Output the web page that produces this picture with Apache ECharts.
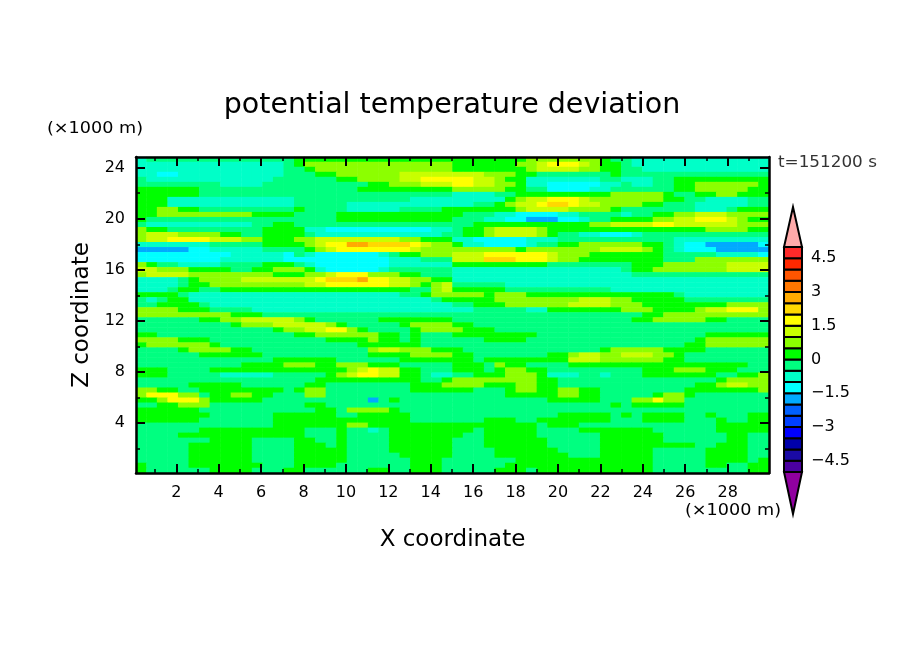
<!DOCTYPE html>
<html><head><meta charset="utf-8">
<style>html,body{margin:0;padding:0;background:#fff}#c{width:904px;height:654px}</style>
<script src="https://cdn.jsdelivr.net/npm/echarts@6/dist/echarts.min.js"></script>
</head><body><div id="c"></div>
<script>
const titleText = 'potential temperature deviation';
const xTicksMajor = [2,4,6,8,10,12,14,16,18,20,22,24,26,28];
const xTicksMinor = [1,3,5,7,9,11,13,15,17,19,21,23,25,27,29];
const zTicksMajor = [4,8,12,16,20,24];
const zTicksMinor = [2,6,10,14,18,22];
const barTicks = [-4.5,-3,-1.5,0,1.5,3,4.5];
const barEdges = [-5,-4.5,-4,-3.5,-3,-2.5,-2,-1.5,-1,-0.5,0,0.5,1,1.5,2,2.5,3,3.5,4,4.5,5];
const barColors = ['#4B00A0','#1A0AA5','#0000AA','#0000FF','#0040FF','#0060FF','#00AAFF','#00FFFF','#00FFC8','#00FF80',
                   '#00FF00','#8CFF00','#C8FF00','#FFFF00','#FFD800','#FFAA00','#FF7700','#FF5500','#FF2800','#FF2A2A'];
const arrowEnds = [[5,6.78,'#FFAAAA'],[-5,-6.87,'#9000A0']];
// values of the field: index into levelMid
const levelMid = [-1.75,-1.25,-0.75,-0.25,0.25,0.75,1.25,1.75,2.25,2.75];
// each row, top to bottom, as pairs: level index, number of columns
const fieldRuns = [
[2,1,3,14,4,15,4,7,5,7,4,1,3,2,2,13],
[2,14,3,1,4,1,5,14,4,6,5,2,6,1,7,3,6,1,5,1,4,2,3,1,2,13],
[2,14,3,2,4,1,5,13,4,7,5,1,6,4,5,2,4,2,3,2,2,12],
[2,2,1,2,2,10,3,3,4,2,5,6,6,5,6,3,5,3,4,2,3,7,4,1,3,14],
[3,1,2,12,3,6,4,2,5,4,6,2,7,3,7,2,6,2,5,1,4,2,2,7,3,2,2,3,3,2,4,9],
[3,8,2,4,3,10,4,2,5,3,6,3,7,2,6,2,5,2,4,1,2,2,1,5,2,2,3,1,2,2,3,2,4,2,5,6,4,1],
[4,6,3,15,4,9,5,5,4,2,3,2,1,4,2,2,3,6,4,2,5,5,4,2],
[4,6,3,24,2,4,3,2,4,9,5,5,4,1,3,2,4,2,5,2,4,3],
[4,3,2,12,3,11,2,4,2,5,4,1,5,1,6,2,7,3,6,1,5,7,4,2,3,2,2,4,3,2],
[4,3,2,12,3,5,2,10,2,2,3,2,4,1,5,1,6,2,7,1,8,2,7,1,6,2,5,4,4,2,3,3,2,5,3,2],
[4,2,5,2,4,2,3,9,4,1,3,4,2,5,3,4,4,1,4,6,5,1,6,4,5,4,4,1,3,7,2,3,3,1,4,3],
[4,2,5,9,4,4,3,4,4,11,4,1,3,3,2,2,1,4,2,2,3,4,2,1,3,2,4,2,5,2,6,3,5,4],
[4,1,3,18,4,11,3,3,2,2,1,2,0,3,1,2,2,1,3,2,4,4,5,2,6,2,7,3,6,1,5,1,4,2],
[3,1,2,10,3,2,4,2,3,15,3,2,4,11,5,2,6,4,7,2,6,6,5,3],
[5,1,4,2,3,9,4,4,2,2,1,10,2,2,3,1,4,2,5,1,6,4,5,1,4,15,5,4,4,2],
[5,1,6,3,5,4,4,2,3,2,4,4,3,1,2,12,3,1,3,1,4,2,5,1,6,4,5,1,4,1,3,2,2,2,1,3,2,1,3,12],
[5,1,6,2,7,4,6,3,5,2,4,3,5,2,6,8,5,2,4,3,2,2,1,5,2,3,3,11,2,9],
[2,7,3,5,4,4,5,1,6,1,7,2,9,2,8,4,7,1,6,1,5,2,4,1,2,2,1,4,2,1,3,2,4,2,5,6,4,2,3,1,2,1,1,2,0,5,1,1],
[0,5,1,2,2,5,3,4,4,1,5,1,6,1,7,7,6,1,5,3,5,6,4,1,5,7,6,4,5,1,4,1,3,1,2,1,1,3,0,5],
[1,9,2,5,1,1,3,1,2,1,1,6,2,1,3,1,4,2,5,3,6,3,7,6,6,1,5,3,4,7,3,5,2,4,1,1],
[1,8,2,6,1,10,2,3,3,3,6,3,8,3,7,3,6,1,5,2,4,8,3,3,5,7],
[5,1,4,1,3,2,2,4,3,4,4,3,3,1,2,1,1,7,2,6,4,9,3,8,4,3,5,6,6,4],
[6,2,5,3,4,4,3,2,4,2,5,3,4,1,2,1,1,5,2,1,3,6,2,16,3,1,4,2,5,7,6,4],
[5,1,6,4,5,8,4,3,5,2,6,1,7,3,5,3,4,2,3,3,2,17,3,13],
[2,4,3,1,4,1,5,4,6,7,7,1,8,3,9,1,7,2,6,2,5,2,4,2,2,30],
[2,4,3,1,4,2,5,9,6,2,7,6,6,2,5,1,4,1,5,1,6,1,3,5,2,25],
[2,3,3,1,4,2,3,2,4,18,3,2,5,1,6,1,4,5,3,10,2,15],
[4,4,3,1,2,20,3,2,4,1,5,2,5,3,4,1,5,3,4,14,3,1,2,8],
[3,1,2,1,3,1,4,2,2,23,3,1,4,1,4,4,5,8,6,3,5,2,4,5,3,8],
[3,2,4,4,3,1,2,23,3,2,4,3,5,6,6,4,5,3,4,8,5,4],
[5,4,4,3,3,4,2,19,2,2,3,5,2,2,4,7,5,3,4,4,5,1,6,2,7,3,5,1],
[5,9,4,3,3,18,3,18,4,2,5,10],
[3,6,4,2,5,2,6,5,5,1,4,1,3,6,4,7,3,17,4,2,5,5,4,2,3,4],
[3,9,4,1,5,3,6,5,5,1,4,1,3,5,4,1,5,4,4,2,3,28],
[3,13,4,1,5,2,6,2,7,2,5,1,4,1,3,4,4,1,5,3,5,1,4,3,3,26],
[4,2,3,13,4,2,5,6,4,2,3,1,4,1,3,3,4,8,3,16,4,6],
[5,4,4,3,3,11,4,4,5,1,4,2,3,1,4,1,3,3,3,3,4,4,3,16,4,1,5,6],
[4,1,5,6,4,1,3,13,4,6,3,3,3,22,4,2,5,6],
[3,4,4,1,5,4,4,2,3,11,5,1,6,2,5,3,4,2,4,1,3,13,4,1,5,5,4,4,3,6],
[3,6,4,6,3,10,4,4,5,4,4,2,3,7,4,2,5,1,6,2,5,2,6,3,5,2,4,1,3,8],
[3,13,4,6,3,6,4,5,4,2,3,1,4,8,6,3,5,6,4,2,3,8],
[3,10,4,4,5,3,4,2,5,3,4,3,3,5,4,3,3,1,5,1,4,2,3,4,4,17,3,2],
[4,3,3,4,4,13,5,1,6,1,7,1,6,2,4,2,3,3,4,3,3,1,4,1,5,2,4,2,3,9,4,3,5,3,4,3,3,3],
[4,3,3,5,2,5,3,5,4,1,5,1,6,1,7,2,6,2,4,2,3,1,2,2,3,2,4,3,5,3,4,1,2,3,3,2,2,1,3,3,4,7,3,2,4,2,5,1],
[3,17,4,10,3,2,4,1,5,8,4,2,3,15,4,1,5,4],
[3,5,4,5,3,6,4,2,3,8,4,3,5,1,5,3,4,3,5,2,4,2,3,13,4,2,5,1,6,2,5,2],
[5,2,4,2,3,2,4,8,3,1,4,1,5,2,3,8,4,4,4,2,3,3,4,1,5,2,4,2,5,2,4,2,3,8,4,7,5,1],
[5,1,7,3,5,2,3,1,4,2,5,2,4,2,3,3,5,2,3,12,3,5,4,5,5,2,4,2,3,5,4,1,5,2,4,1,3,7],
[4,2,5,1,7,3,5,1,4,5,3,10,0,1,3,1,4,1,3,5,3,9,4,5,3,3,5,2,7,1,5,2,3,8],
[3,2,4,2,5,3,3,9,4,2,3,12,3,15,4,1,3,1,4,5,3,8],
[4,6,3,11,4,2,3,1,5,4,4,1,3,5,3,30],
[4,7,3,6,4,6,3,2,4,5,3,4,3,10,4,5,3,1,4,1,3,1,4,4,3,2,4,1,3,3,4,2],
[4,6,3,7,4,13,3,4,3,3,4,3,3,2,4,7,3,3,4,4,3,3,4,1,3,2,4,2],
[3,13,4,7,5,2,4,8,4,8,3,1,4,3,3,13,4,5],
[3,6,4,10,3,3,4,1,3,2,2,1,3,1,4,6,4,2,3,1,4,5,3,4,4,7,3,6,4,5],
[3,4,4,12,3,3,4,1,3,4,4,6,4,1,3,2,4,5,3,6,4,6,3,6,4,2,3,2],
[3,7,4,4,3,4,4,2,3,2,4,1,3,4,4,6,3,3,4,6,3,5,4,6,3,6,4,2,3,2],
[3,5,4,6,3,4,4,3,3,1,4,1,3,4,4,6,3,3,4,6,3,5,4,9,3,2,4,3,3,2],
[3,5,4,6,3,4,4,5,3,4,4,6,3,4,4,6,3,4,4,5,3,5,4,4,3,2],
[3,5,4,6,3,4,4,5,3,5,4,5,3,4,4,7,3,3,4,5,3,5,4,4,3,2],
[3,5,4,6,3,4,4,5,3,6,4,3,3,1,3,6,4,13,3,5,4,4,3,1,4,1],
[4,1,3,4,4,7,3,3,4,4,3,7,4,3,3,1,3,5,4,14,3,5,4,2,3,2,4,2],
[4,1,3,6,4,4,3,3,4,2,3,6,4,2,3,2,4,3,3,1,3,4,4,3,3,1,4,11,3,9,4,2]
];

const font = '"DejaVu Sans"';
const nCols = 60, nRows = fieldRuns.length;
const heatData = [];
fieldRuns.forEach((runs, r) => {
  let c = 0;
  for (let i = 0; i < runs.length; i += 2)
    for (let k = 0; k < runs[i + 1]; k++) heatData.push([c++, r, levelMid[runs[i]]]);
});
const idx = n => Array.from({length: n}, (_, i) => i);
const barData = barColors.map((col, i) => [barEdges[i], barEdges[i + 1], col]);
const labelStyle = {fontFamily: font, fontSize: 16, color: '#000'};

const X_MIN = 0.1, X_MAX = 29.95, Z_MIN = 0.08, Z_MAX = 24.84;
function frameAxis(dim, pos, ticks, len, withLine, withLabel) {
  return {
    type: 'value', gridIndex: 0, position: pos, z: 10,
    min: dim === 'x' ? X_MIN : Z_MIN, max: dim === 'x' ? X_MAX : Z_MAX,
    splitLine: {show: false},
    axisLine: {show: withLine, onZero: false, lineStyle: {color: '#000', width: 2.5}},
    axisTick: {show: true, inside: true, length: len, customValues: ticks, lineStyle: {color: '#000', width: len > 5 ? 2 : 1.5}},
    axisLabel: {show: withLabel, customValues: ticks, margin: dim === 'x' ? 12 : 11,
      padding: dim === 'x' ? 0 : [5, 0, 0, 0], formatter: v => String(v), ...labelStyle}
  };
}
const xBottom = frameAxis('x', 'bottom', xTicksMajor, 9, true, true);
xBottom.name = 'X coordinate'; xBottom.nameLocation = 'middle'; xBottom.nameGap = 56;
xBottom.nameTextStyle = {fontFamily: font, fontSize: 23, color: '#000'};
const zLeft = frameAxis('y', 'left', zTicksMajor, 9, true, true);
zLeft.name = 'Z coordinate'; zLeft.nameLocation = 'middle'; zLeft.nameGap = 41;
zLeft.nameTextStyle = {fontFamily: font, fontSize: 23, color: '#000'};

const option = {
  animation: false,
  backgroundColor: '#fff',
  title: {text: titleText, left: 'center', top: 86, textStyle: {fontFamily: font, fontSize: 28.5, fontWeight: 'normal', color: '#000'}},
  grid: [
    {left: 136, top: 157, width: 633, height: 316},
    {left: 784, top: 207, width: 18, height: 307}
  ],
  xAxis: [
    {type: 'category', gridIndex: 0, data: idx(nCols), show: false},
    xBottom,
    frameAxis('x', 'top', xTicksMajor, 9, true, false),
    frameAxis('x', 'bottom', xTicksMinor, 4, false, false),
    frameAxis('x', 'top', xTicksMinor, 4, false, false),
    {type: 'value', gridIndex: 1, min: 0, max: 1, show: false}
  ],
  yAxis: [
    {type: 'category', gridIndex: 0, data: idx(nRows), inverse: true, show: false},
    zLeft,
    frameAxis('y', 'right', zTicksMajor, 9, true, false),
    frameAxis('y', 'left', zTicksMinor, 4, false, false),
    frameAxis('y', 'right', zTicksMinor, 4, false, false),
    {type: 'value', gridIndex: 1, position: 'right', min: -6.87, max: 6.78,
     splitLine: {show: false}, axisLine: {show: false}, axisTick: {show: false},
     axisLabel: {show: true, customValues: barTicks, margin: 9, padding: [5, 0, 0, 0],
       formatter: v => String(v).replace('-', '\u2212'), ...labelStyle}}
  ],
  visualMap: {
    show: false, type: 'piecewise', seriesIndex: 0, dimension: 2,
    pieces: barColors.map((col, i) => ({gte: barEdges[i], lt: barEdges[i + 1], color: col}))
  },
  series: [
    {type: 'heatmap', xAxisIndex: 0, yAxisIndex: 0, data: heatData, progressive: 0, itemStyle: {borderWidth: 0}, z: 2},
    {type: 'custom', xAxisIndex: 5, yAxisIndex: 5, data: barData, z: 3, silent: true,
     encode: {y: [0, 1]},
     renderItem: (p, api) => {
       const a = api.coord([0, api.value(1)]), b = api.coord([1, api.value(0)]);
       return {type: 'rect', shape: {x: a[0], y: a[1], width: b[0] - a[0], height: b[1] - a[1]},
         style: {fill: barColors[p.dataIndex], stroke: '#000', lineWidth: 2}};
     }},
    {type: 'custom', xAxisIndex: 5, yAxisIndex: 5, data: arrowEnds, z: 3, silent: true,
     encode: {y: [0, 1]},
     renderItem: (p, api) => {
       const base = api.value(0), tip = api.value(1);
       return {type: 'polygon', shape: {points: [api.coord([0, base]), api.coord([1, base]), api.coord([0.5, tip])]},
         style: {fill: arrowEnds[p.dataIndex][2], stroke: '#000', lineWidth: 2}};
     }}
  ],
  graphic: [
    {type: 'text', x: 47, y: 121, scaleX: 1.1, style: {text: '(\u00d71000 m)', fontFamily: font, fontSize: 16, fill: '#000'}},
    {type: 'text', x: 685, y: 503, scaleX: 1.1, style: {text: '(\u00d71000 m)', fontFamily: font, fontSize: 16, fill: '#000'}},
    {type: 'text', x: 778, y: 155, scaleX: 1.05, style: {text: 't=151200 s', fontFamily: font, fontSize: 16, fill: '#333'}}
  ]
};
echarts.init(document.getElementById('c'), null, {renderer: 'canvas'}).setOption(option);
</script>
</body></html>
